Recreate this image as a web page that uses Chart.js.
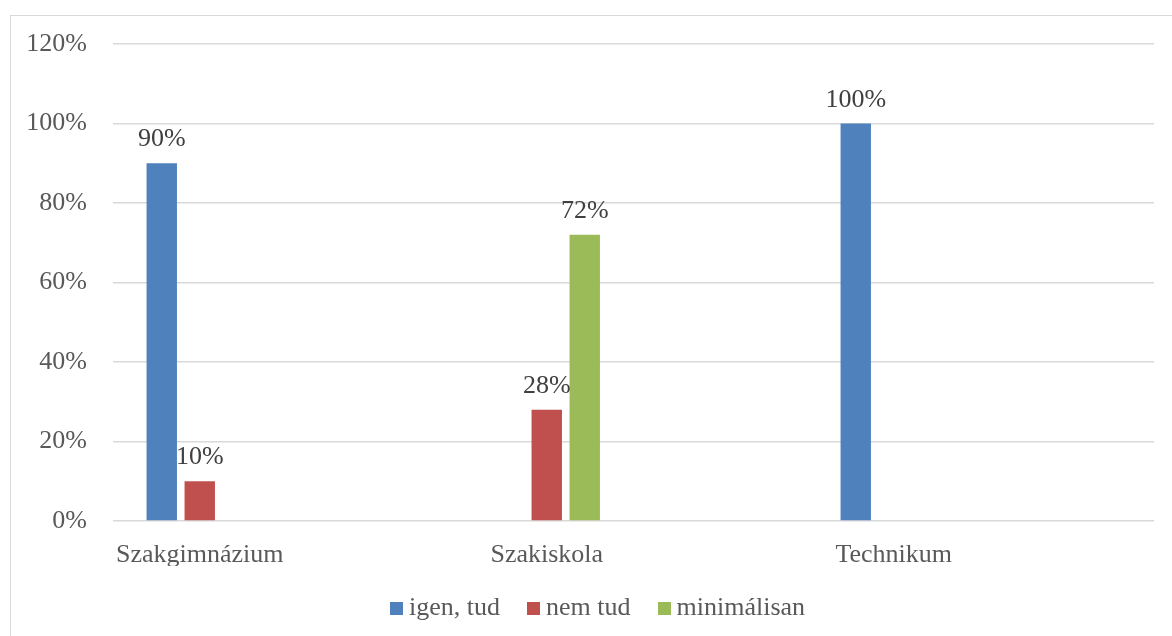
<!DOCTYPE html>
<html>
<head>
<meta charset="utf-8">
<script src="https://cdn.jsdelivr.net/npm/chart.js@4/dist/chart.umd.min.js"></script>
<style>
  html, body { margin: 0; padding: 0; background: #fff; overflow: hidden; }
  #wrap { position: relative; width: 1172px; height: 636px; }
  #frame { position: absolute; left: 10px; top: 15px; width: 1300px; height: 800px; border: 1.5px solid #d9d9d9; box-sizing: border-box; }
  #c { position: absolute; left: 0; top: 0; }
  #legend { position: absolute; left: 390px; top: 594px; height: 26px; display: flex; align-items: center;
            font-family: "Liberation Serif", "Times New Roman", serif; font-size: 26px; color: #595959; white-space: nowrap; }
  .item { display: flex; align-items: center; margin-right: 27px; }
  .box { width: 13px; height: 13px; margin-right: 6px; margin-top: 2px; }
</style>
</head>
<body>
<div id="wrap">
  <div id="frame"></div>
  <canvas id="c" width="1172" height="636"></canvas>
  <div id="legend"></div>
</div>
<script>
const categories = ["Szakgimnázium", "Szakiskola", "Technikum"];
const seriesNames = ["igen, tud", "nem tud", "minimálisan"];
const igenTud = [90, 0, 100];
const nemTud = [10, 28, 0];
const minimalisan = [0, 72, 0];
const yTicks = [0, 20, 40, 60, 80, 100, 120];
const colors = ["#4F81BD", "#C0504D", "#9BBB59"];

const FONT = '"Liberation Serif", "Times New Roman", serif';
const seriesValues = [igenTud, nemTud, minimalisan];

const datasets = seriesNames.map((name, s) => ({
  label: name,
  data: seriesValues[s].map((v, i) => ({ x: i, y: v })),
  backgroundColor: colors[s],
  borderWidth: 0,
  categoryPercentage: 0.3285,
  barPercentage: 0.8
}));

const valueLabels = {
  id: 'valueLabels',
  afterDatasetsDraw(chart) {
    const ctx = chart.ctx;
    ctx.save();
    ctx.font = '26px ' + FONT;
    ctx.fillStyle = '#404040';
    ctx.textAlign = 'center';
    ctx.textBaseline = 'alphabetic';
    chart.data.datasets.forEach((ds, di) => {
      const meta = chart.getDatasetMeta(di);
      meta.data.forEach((el, i) => {
        const v = ds.data[i].y;
        if (v > 0) ctx.fillText(v + '%', el.x, el.y - 17);
      });
    });
    ctx.restore();
  }
};

new Chart(document.getElementById('c'), {
  type: 'bar',
  data: { datasets },
  plugins: [valueLabels],
  options: {
    responsive: false,
    animation: false,
    events: [],
    layout: { padding: { left: 10, right: 18, top: 44, bottom: 70 } },
    plugins: { legend: { display: false }, tooltip: { enabled: false } },
    scales: {
      x: {
        type: 'linear',
        min: -0.25,
        max: 2.75,
        offset: false,
        grid: { display: false, drawTicks: false },
        border: { display: false },
        afterBuildTicks: (scale) => { scale.ticks = categories.map((_, i) => ({ value: i })); },
        afterFit: (scale) => { scale.height = 45; },
        ticks: {
          padding: 19,
          maxRotation: 0,
          autoSkip: false,
          color: '#595959',
          font: { family: FONT, size: 26 },
          callback: (v) => categories[v] ?? ''
        }
      },
      y: {
        min: 0,
        max: 120,
        grid: { color: '#d9d9d9', lineWidth: 1.5, drawTicks: false },
        border: { display: false },
        afterBuildTicks: (scale) => { scale.ticks = yTicks.map(v => ({ value: v })); },
        afterFit: (scale) => { scale.width = 103; },
        ticks: {
          padding: 26,
          color: '#595959',
          font: { family: FONT, size: 26 },
          callback: (v) => v + '%'
        }
      }
    }
  }
});

const legend = document.getElementById('legend');
seriesNames.forEach((name, s) => {
  const item = document.createElement('div');
  item.className = 'item';
  const box = document.createElement('div');
  box.className = 'box';
  box.style.background = colors[s];
  const txt = document.createElement('span');
  txt.textContent = name;
  item.appendChild(box);
  item.appendChild(txt);
  legend.appendChild(item);
});
</script>
</body>
</html>
